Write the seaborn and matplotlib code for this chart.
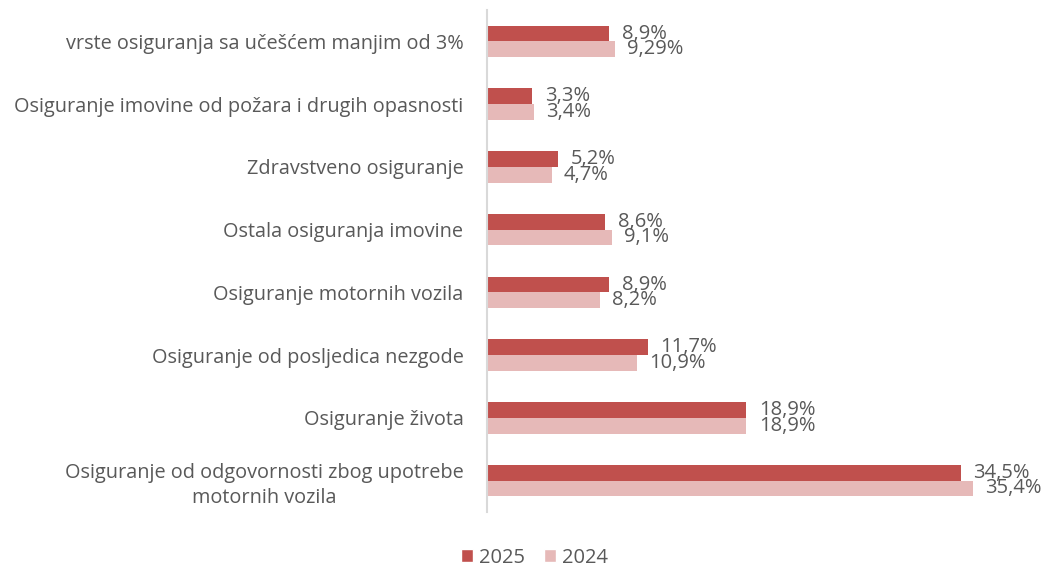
import matplotlib
matplotlib.use("Agg")
import matplotlib.pyplot as plt
import seaborn as sns
import pandas as pd
from matplotlib.patches import Patch

categories = [
    "vrste osiguranja sa učešćem manjim od 3%",
    "Osiguranje imovine od požara i drugih opasnosti",
    "Zdravstveno osiguranje",
    "Ostala osiguranja imovine",
    "Osiguranje motornih vozila",
    "Osiguranje od posljedica nezgode",
    "Osiguranje života",
    "Osiguranje od odgovornosti zbog upotrebe\nmotornih vozila",
]
values_2025 = [8.9, 3.3, 5.2, 8.6, 8.9, 11.7, 18.9, 34.5]
values_2024 = [9.29, 3.4, 4.7, 9.1, 8.2, 10.9, 18.9, 35.4]
labels_2025 = ["8,9%", "3,3%", "5,2%", "8,6%", "8,9%", "11,7%", "18,9%", "34,5%"]
labels_2024 = ["9,29%", "3,4%", "4,7%", "9,1%", "8,2%", "10,9%", "18,9%", "35,4%"]
series = ["2025", "2024"]

df = pd.DataFrame({
    "cat": categories * 2,
    "val": values_2025 + values_2024,
    "year": [series[0]] * len(categories) + [series[1]] * len(categories),
})

sns.set_theme(style="white")
plt.rcParams["font.family"] = ["Open Sans", "DejaVu Sans"]

gray = "#595959"
fig = plt.figure(figsize=(10.48, 5.69), dpi=100)
ax = fig.add_axes([0.4647, 0.1002, 0.524, 0.8822])

sns.barplot(data=df, y="cat", x="val", hue="year", hue_order=series, order=categories,
            palette=["#C0504D", "#E6B9B8"], width=0.5, orient="h", ax=ax,
            saturation=1, legend=False, linewidth=0)

for cont, labs in zip(ax.containers, [labels_2025, labels_2024]):
    ax.bar_label(cont, labels=labs, padding=9, fontsize=14.5, color=gray)

ax.set_xlim(0, 40)
ax.set_ylim(7.5, -0.5)
ax.set_xlabel("")
ax.set_ylabel("")
ax.set_xticks([])
for s in ["top", "right", "bottom"]:
    ax.spines[s].set_visible(False)
ax.spines["left"].set_color("#D9D9D9")
ax.spines["left"].set_linewidth(1.5)
ax.tick_params(axis="y", length=0, pad=17, labelsize=14.3, labelcolor=gray)
for t in ax.get_yticklabels():
    t.set_multialignment("center")
    t.set_linespacing(1.35)

handles = [Patch(facecolor="#C0504D"), Patch(facecolor="#E6B9B8")]
fig.legend(handles, series, loc="center", bbox_to_anchor=(0.51, 0.02), ncol=2,
           frameon=False, fontsize=14.5, labelcolor=gray, handlelength=0.6,
           handleheight=0.6, handletextpad=0.3, columnspacing=0.9)

fig.savefig("out.png", dpi=100)
